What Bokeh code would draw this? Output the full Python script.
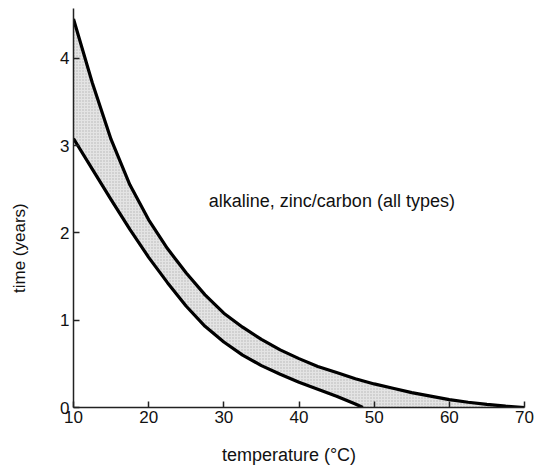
from bokeh.plotting import figure
from bokeh.models import Range1d, FixedTicker, Label
from bokeh.embed import file_html
from bokeh.resources import INLINE

# Upper boundary of the band (temperature °C, time in years)
temp_upper = [10, 12.5, 15, 17.5, 20, 22.5, 25, 27.5, 30, 32.5, 35, 37.5, 40, 42.5,
              45, 47.5, 50, 52.5, 55, 57.5, 60, 62.5, 65, 67.5, 70]
time_upper = [4.45, 3.72, 3.07, 2.55, 2.15, 1.82, 1.54, 1.29, 1.08, 0.92, 0.78, 0.66, 0.56, 0.47,
              0.40, 0.33, 0.27, 0.22, 0.17, 0.13, 0.09, 0.06, 0.035, 0.015, 0.0]

# Lower boundary of the band
temp_lower = [10, 12.5, 15, 17.5, 20, 22.5, 25, 27.5, 30, 32.5, 35, 37.5, 40, 42.5, 45, 47.5, 48.5]
time_lower = [3.08, 2.73, 2.38, 2.04, 1.72, 1.43, 1.16, 0.93, 0.75, 0.60, 0.48, 0.38, 0.29,
              0.21, 0.13, 0.04, 0.0]

x_ticks = [10, 20, 30, 40, 50, 60, 70]
y_ticks = [0, 1, 2, 3, 4]
annotation = "alkaline, zinc/carbon (all types)"
x_label = "temperature (\u00b0C)"
y_label = "time (years)"

FONT = "Liberation Sans"
NBSP = "\u00a0"

p = figure(width=540, height=467, output_backend="svg", toolbar_location=None,
           x_range=Range1d(10, 70), y_range=Range1d(0, 4.57),
           min_border_left=73, min_border_right=16, min_border_top=8, min_border_bottom=60)
p.frame_width = 451
p.frame_height = 399

p.outline_line_color = None
p.grid.grid_line_color = None
p.background_fill_color = "white"
p.border_fill_color = "white"

# shaded band
band_x = temp_upper + temp_lower[::-1]
band_y = time_upper + time_lower[::-1]
p.patch(band_x, band_y, fill_color="#e4e4e4", line_color=None,
        hatch_pattern="dot", hatch_color="#8a8a8a", hatch_scale=3, hatch_weight=1, hatch_alpha=0.55)

p.line(temp_upper, time_upper, line_color="black", line_width=3.2, line_join="round")
p.line(temp_lower, time_lower, line_color="black", line_width=3.2, line_join="round")

for ax in (p.xaxis[0], p.yaxis[0]):
    ax.axis_line_color = "#222222"
    ax.axis_line_width = 1.5
    ax.major_tick_line_color = "#222222"
    ax.major_tick_line_width = 1.5
    ax.major_tick_in = 6
    ax.major_tick_out = 0
    ax.minor_tick_line_color = None
    ax.major_label_text_font = FONT
    ax.major_label_text_font_size = "17px"
    ax.major_label_text_color = "#111111"
    ax.axis_label_text_font = FONT
    ax.axis_label_text_font_style = "normal"
    ax.axis_label_text_color = "#111111"

p.xaxis.ticker = FixedTicker(ticks=x_ticks)
p.yaxis.ticker = FixedTicker(ticks=y_ticks)
p.xaxis.major_label_standoff = 3
p.yaxis.major_label_standoff = 4

# trailing non-breaking spaces shift the centred labels to where the reference has them
p.xaxis.axis_label = x_label + NBSP * 4
p.xaxis.axis_label_text_font_size = "18px"
p.xaxis.axis_label_standoff = 19
p.yaxis.axis_label = y_label + NBSP * 17
p.yaxis.axis_label_text_font_size = "17px"
p.yaxis.axis_label_standoff = 28

p.add_layout(Label(x=28, y=2.37, text=annotation, text_font=FONT, text_font_size="18px",
                   text_color="#111111", text_baseline="middle", text_align="left"))

open("out.html", "w").write(file_html(p, INLINE))
